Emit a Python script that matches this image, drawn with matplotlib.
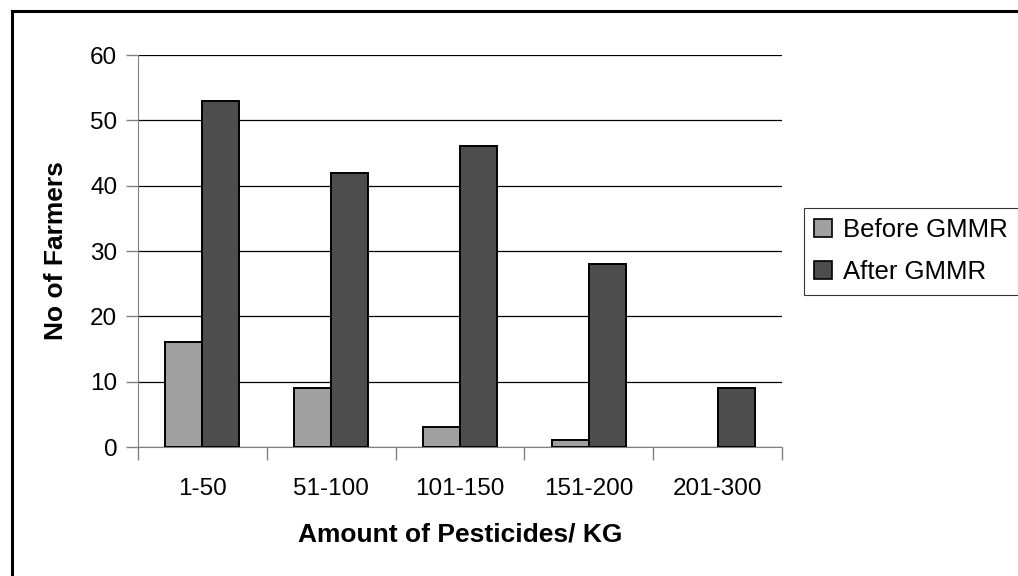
import matplotlib
matplotlib.use("Agg")
from matplotlib import pyplot as plt
from matplotlib.lines import Line2D
import numpy as np

plt.rcParams["font.family"] = ["Liberation Sans", "DejaVu Sans"]

categories = ["1-50", "51-100", "101-150", "151-200", "201-300"]
before = [16, 9, 3, 1, 0]
after = [53, 42, 46, 28, 9]

W, H = 1018, 576
fig = plt.figure(figsize=(W / 100, H / 100), dpi=100)
# plot area in pixels: x 138..782, y 55..447
ax = fig.add_axes([138 / W, 1 - 447 / H, (782 - 138) / W, (447 - 55) / H])

x = np.arange(len(categories))
w = 0.287
ax.bar(x - w / 2, before, w, color="#a0a0a0", edgecolor="black",
       linewidth=[1.4 if v > 0 else 0 for v in before],
       label="Before GMMR", zorder=3)
ax.bar(x + w / 2, after, w, color="#4d4d4d", edgecolor="black",
       linewidth=[1.4 if v > 0 else 0 for v in after],
       label="After GMMR", zorder=3)

ax.set_xlim(-0.5, len(categories) - 0.5)
ax.set_ylim(0, 60)
ax.set_yticks(range(0, 61, 10))
ax.yaxis.grid(True, color="black", linewidth=0.9, zorder=0)
ax.set_xticks(x)
ax.set_xticklabels(categories, fontsize=17.5)
ax.tick_params(axis="x", length=0, pad=22)
ax.set_xticks(np.arange(-0.5, len(categories), 1), minor=True)
ax.tick_params(axis="x", which="minor", length=9, color="#808080", width=1)
ax.tick_params(axis="y", labelsize=17.5, length=9, color="#808080", width=1, pad=6)

for s in ["top", "right"]:
    ax.spines[s].set_visible(False)
ax.spines["left"].set_color("#808080")
ax.spines["bottom"].set_color("#808080")

ax.set_xlabel("Amount of Pesticides/ KG", fontsize=19, fontweight="bold")
ax.xaxis.set_label_coords(0.5, (447 - 522) / 392)
ax.set_ylabel("No of Farmers", fontsize=19, fontweight="bold")
ax.yaxis.set_label_coords((68 - 138) / 644, 0.5)

leg = ax.legend(loc="upper left", bbox_to_anchor=(804 / W, 1 - 208 / H),
                bbox_transform=fig.transFigure, fontsize=18.5, frameon=True,
                fancybox=False, handlelength=0.7, handleheight=0.7,
                handletextpad=0.4, borderpad=0.4, labelspacing=0.7,
                borderaxespad=0)
leg.get_frame().set_edgecolor("black")
leg.get_frame().set_linewidth(0.8)
for h in leg.legend_handles:
    h.set_linewidth(1.2)

# outer chart border (only top and left edges fall inside the image)
fig.add_artist(Line2D([12 / W, 12 / W], [0, 1 - 11 / H], transform=fig.transFigure,
                      color="black", linewidth=2.2))
fig.add_artist(Line2D([12 / W, 1], [1 - 11 / H, 1 - 11 / H], transform=fig.transFigure,
                      color="black", linewidth=2.2))

fig.savefig("out.png", dpi=100)
